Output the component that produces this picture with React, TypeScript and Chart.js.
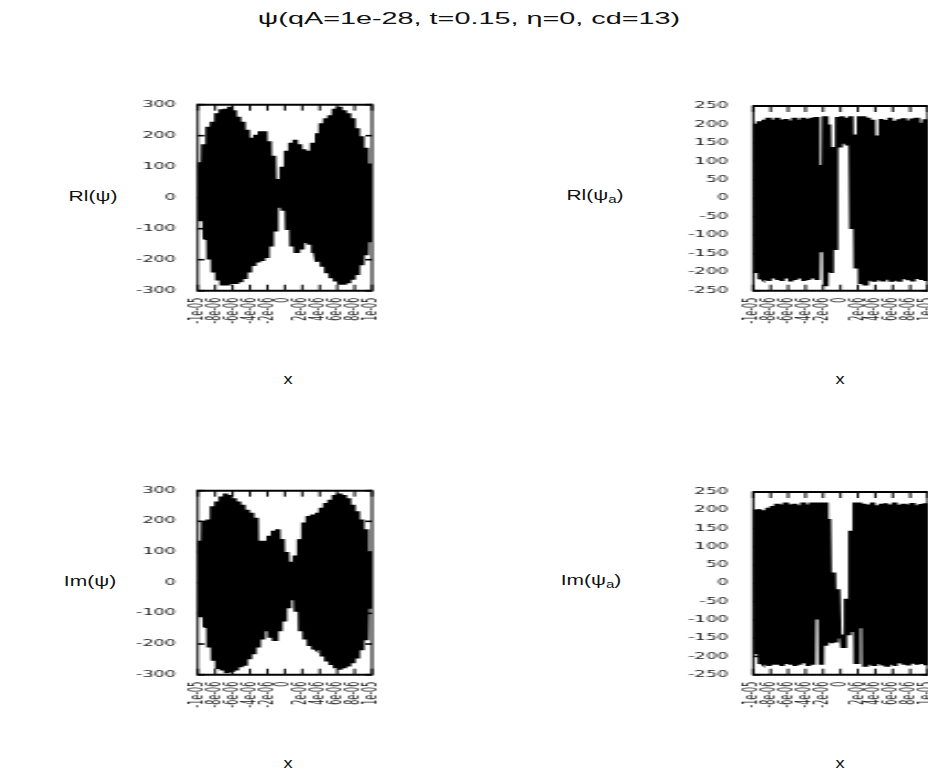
import React, { useEffect, useRef } from "react";
import { Chart, registerables } from "chart.js";
Chart.register(...registerables);

// ---------- data ----------
const X_MIN = -1e-5;
const X_MAX = 1e-5;
const xTickLabels = ["-1e-05", "-8e-06", "-6e-06", "-4e-06", "-2e-06", "0", "2e-06", "4e-06", "6e-06", "8e-06", "1e-05"];

// Rl(psi): upper / lower envelope per strip
const rePsiHi = [114, 172, 229, 245, 272, 285, 287, 293, 282, 261, 245, 219, 193, 203, 214, 214, 182, 135, 60, 100, 151, 177, 187, 172, 156, 151, 177, 208, 240, 256, 266, 287, 293, 282, 272, 256, 224, 198, 161, 110];
const rePsiLo = [-76, -134, -197, -239, -265, -281, -281, -276, -276, -270, -260, -239, -218, -207, -202, -192, -155, -107, -30, -40, -102, -155, -176, -165, -144, -149, -176, -207, -223, -244, -260, -270, -281, -281, -276, -265, -249, -218, -186, -144];

// Rl(psi_a)
const rePsiAHi = [200, 209, 213, 218, 213, 218, 213, 215, 211, 218, 213, 218, 215, 218, 220, 90, 222, 200, 139, 220, 222, 218, 222, 173, 222, 222, 218, 213, 170, 215, 212, 218, 210, 214, 217, 211, 216, 218, 205, 214];
const rePsiALo = [-199, -217, -221, -224, -217, -221, -224, -217, -225, -221, -217, -224, -221, -217, -221, -146, -238, -200, -138, 140, 150, 145, -81, -188, -230, -234, -221, -224, -220, -223, -218, -224, -221, -226, -219, -222, -225, -218, -221, -224];

// Im(psi)
const imPsiHi = [137, 201, 206, 249, 265, 281, 291, 286, 275, 265, 254, 238, 228, 212, 137, 137, 153, 169, 174, 142, 100, 68, 89, 142, 196, 217, 222, 228, 244, 260, 270, 286, 291, 286, 275, 254, 233, 206, 174, 100];
const imPsiLo = [-113, -145, -209, -252, -279, -284, -293, -289, -284, -273, -268, -247, -231, -209, -183, -156, -177, -188, -156, -124, -81, -55, -92, -156, -183, -204, -215, -220, -241, -257, -268, -279, -284, -279, -273, -263, -247, -220, -188, -85];

// Im(psi_a)
const imPsiAHi = [198, 203, 200, 207, 212, 218, 216, 221, 216, 218, 214, 221, 216, 221, 221, 221, 221, 176, 30, -16, -140, -42, 144, 221, 221, 218, 216, 221, 214, 218, 219, 216, 221, 215, 218, 216, 220, 214, 217, 219];
const imPsiALo = [-192, -219, -223, -226, -223, -223, -226, -221, -223, -226, -223, -219, -226, -223, -99, -223, -171, -162, -160, -149, -175, -140, -131, -219, -121, -226, -221, -224, -219, -223, -226, -221, -224, -219, -223, -225, -220, -223, -221, -224];

// ---------- rendering ----------
const SX = 2.2; // horizontal stretch of the original figure
const RIGHT_PAD = 22; // pre-stretch room right of the plot frame (covers rotated-label overflow)

function buildSeries(hi: number[], lo: number[]) {
  const n = hi.length;
  const step = (X_MAX - X_MIN) / n;
  const pts: { x: number; y: number }[] = [];
  for (let k = 0; k < n; k++) {
    for (let j = 0; j < 4; j++) {
      pts.push({ x: X_MIN + (k + (j + 0.5) / 4) * step, y: j % 2 === 0 ? hi[k] : lo[k] });
    }
  }
  return pts;
}

const framePlugin = {
  id: "frameTicks",
  afterDatasetsDraw(chart: any) {
    const { ctx, chartArea } = chart;
    const { left, right, top, bottom } = chartArea;
    const xs = chart.scales.x;
    const ys = chart.scales.y;
    ctx.save();
    ctx.strokeStyle = "#000";
    const line = (a: number, b: number, c: number, d: number) => {
      ctx.beginPath();
      ctx.moveTo(a, b);
      ctx.lineTo(c, d);
      ctx.stroke();
    };
    ctx.lineWidth = 1;
    xs.ticks.forEach((t: any) => {
      const px = xs.getPixelForValue(t.value);
      line(px, top, px, top + 6);
      line(px, bottom, px, bottom - 6);
    });
    ctx.lineWidth = 1.6;
    ys.ticks.forEach((t: any) => {
      const py = ys.getPixelForValue(t.value);
      line(left, py, left + 3, py);
      line(right, py, right - 3, py);
    });
    ctx.lineWidth = 1;
    line(left, top - 1, left, bottom + 1);
    line(right, top - 1, right, bottom + 1);
    ctx.lineWidth = 2;
    line(left, top, right, top);
    line(left, bottom, right, bottom);
    ctx.restore();
  },
};

type PanelProps = {
  left: number;
  top: number;
  height: number;
  frame: { l: number; r: number; t: number; b: number };
  labelRight: number;
  hi: number[];
  lo: number[];
  yMin: number;
  yMax: number;
  yStep: number;
};

function Panel(p: PanelProps) {
  const ref = useRef<HTMLCanvasElement | null>(null);
  const wc = (p.frame.r - p.left) / SX + RIGHT_PAD;
  useEffect(() => {
    if (!ref.current) return;
    const yAxisWidth = (p.frame.l - p.left) / SX;
    const topPad = p.frame.t - p.top;
    const xAxisHeight = p.top + p.height - p.frame.b;
    const tickPad = (p.frame.l - p.labelRight) / SX;
    const font = { family: "'DejaVu Sans', sans-serif", size: 8 };
    const chart = new Chart(ref.current, {
      type: "line",
      data: {
        datasets: [
          {
            data: buildSeries(p.hi, p.lo),
            borderColor: "#000",
            borderWidth: 1.5,
            borderJoinStyle: "miter",
            pointRadius: 0,
            tension: 0,
            fill: false,
          },
        ],
      },
      options: {
        responsive: false,
        animation: false,
        events: [],
        layout: { padding: { left: 0, right: RIGHT_PAD, top: topPad, bottom: 0 } },
        plugins: { legend: { display: false }, tooltip: { enabled: false }, title: { display: false } },
        scales: {
          x: {
            type: "linear",
            min: X_MIN,
            max: X_MAX,
            offset: false,
            grid: { display: false, drawTicks: false },
            border: { display: false },
            afterFit: (s: any) => {
              s.height = xAxisHeight;
            },
            ticks: {
              stepSize: (X_MAX - X_MIN) / (xTickLabels.length - 1),
              autoSkip: false,
              maxRotation: 90,
              minRotation: 90,
              padding: 7,
              color: "#222",
              font,
              callback: (_v: any, i: number) => xTickLabels[i],
            },
          },
          y: {
            type: "linear",
            min: p.yMin,
            max: p.yMax,
            grid: { display: false, drawTicks: false },
            border: { display: false },
            afterFit: (s: any) => {
              s.width = yAxisWidth;
            },
            ticks: { stepSize: p.yStep, padding: tickPad, color: "#222", font },
          },
        },
      },
      plugins: [framePlugin],
    } as any);
    return () => chart.destroy();
  }, []);
  return (
    <canvas
      ref={ref}
      width={wc}
      height={p.height}
      style={{
        position: "absolute",
        left: p.left,
        top: p.top,
        width: wc,
        height: p.height,
        transform: `scaleX(${SX})`,
        transformOrigin: "left top",
      }}
    />
  );
}

function Txt(props: { x: number; y: number; size: number; sx: number; children: any }) {
  return (
    <div
      style={{
        position: "absolute",
        left: props.x,
        top: props.y,
        transform: `translate(-50%, -50%) scaleX(${props.sx})`,
        fontFamily: "'Liberation Sans', Arial, sans-serif",
        fontSize: props.size,
        lineHeight: 1,
        whiteSpace: "nowrap",
        color: "#111",
      }}
    >
      {props.children}
    </div>
  );
}

const Sub = ({ children }: { children: any }) => (
  <span style={{ fontSize: "0.72em", verticalAlign: "-0.3em" }}>{children}</span>
);

export default function App() {
  return (
    <div
      style={{
        position: "fixed",
        left: 0,
        top: 0,
        width: 928,
        height: 771,
        background: "#fff",
        overflow: "hidden",
      }}
    >
      <Txt x={469} y={19} size={16} sx={1.8}>
        ψ(qA=1e-28, t=0.15, η=0, cd=13)
      </Txt>

      <Panel left={130} top={90} height={240}
        frame={{ l: 197.7, r: 372, t: 100.7, b: 290.7 }} labelRight={176}
        hi={rePsiHi} lo={rePsiLo} yMin={-300} yMax={300} yStep={100} />
      <Panel left={686} top={90} height={240}
        frame={{ l: 752.7, r: 927, t: 100.7, b: 290.7 }} labelRight={728}
        hi={rePsiAHi} lo={rePsiALo} yMin={-250} yMax={250} yStep={50} />
      <Panel left={130} top={476} height={240}
        frame={{ l: 197.7, r: 372, t: 487, b: 674.7 }} labelRight={176}
        hi={imPsiHi} lo={imPsiLo} yMin={-300} yMax={300} yStep={100} />
      <Panel left={686} top={476} height={240}
        frame={{ l: 752.7, r: 927, t: 487, b: 674.7 }} labelRight={728}
        hi={imPsiAHi} lo={imPsiALo} yMin={-250} yMax={250} yStep={50} />

      <Txt x={93} y={196} size={14} sx={1.5}>Rl(ψ)</Txt>
      <Txt x={595} y={197} size={14} sx={1.5}>Rl(ψ<Sub>a</Sub>)</Txt>
      <Txt x={90} y={581} size={14} sx={1.5}>Im(ψ)</Txt>
      <Txt x={591} y={582} size={14} sx={1.5}>Im(ψ<Sub>a</Sub>)</Txt>

      <Txt x={288} y={379} size={14} sx={1.3}>x</Txt>
      <Txt x={840} y={379} size={14} sx={1.3}>x</Txt>
      <Txt x={288} y={763} size={14} sx={1.3}>x</Txt>
      <Txt x={840} y={763} size={14} sx={1.3}>x</Txt>
    </div>
  );
}
